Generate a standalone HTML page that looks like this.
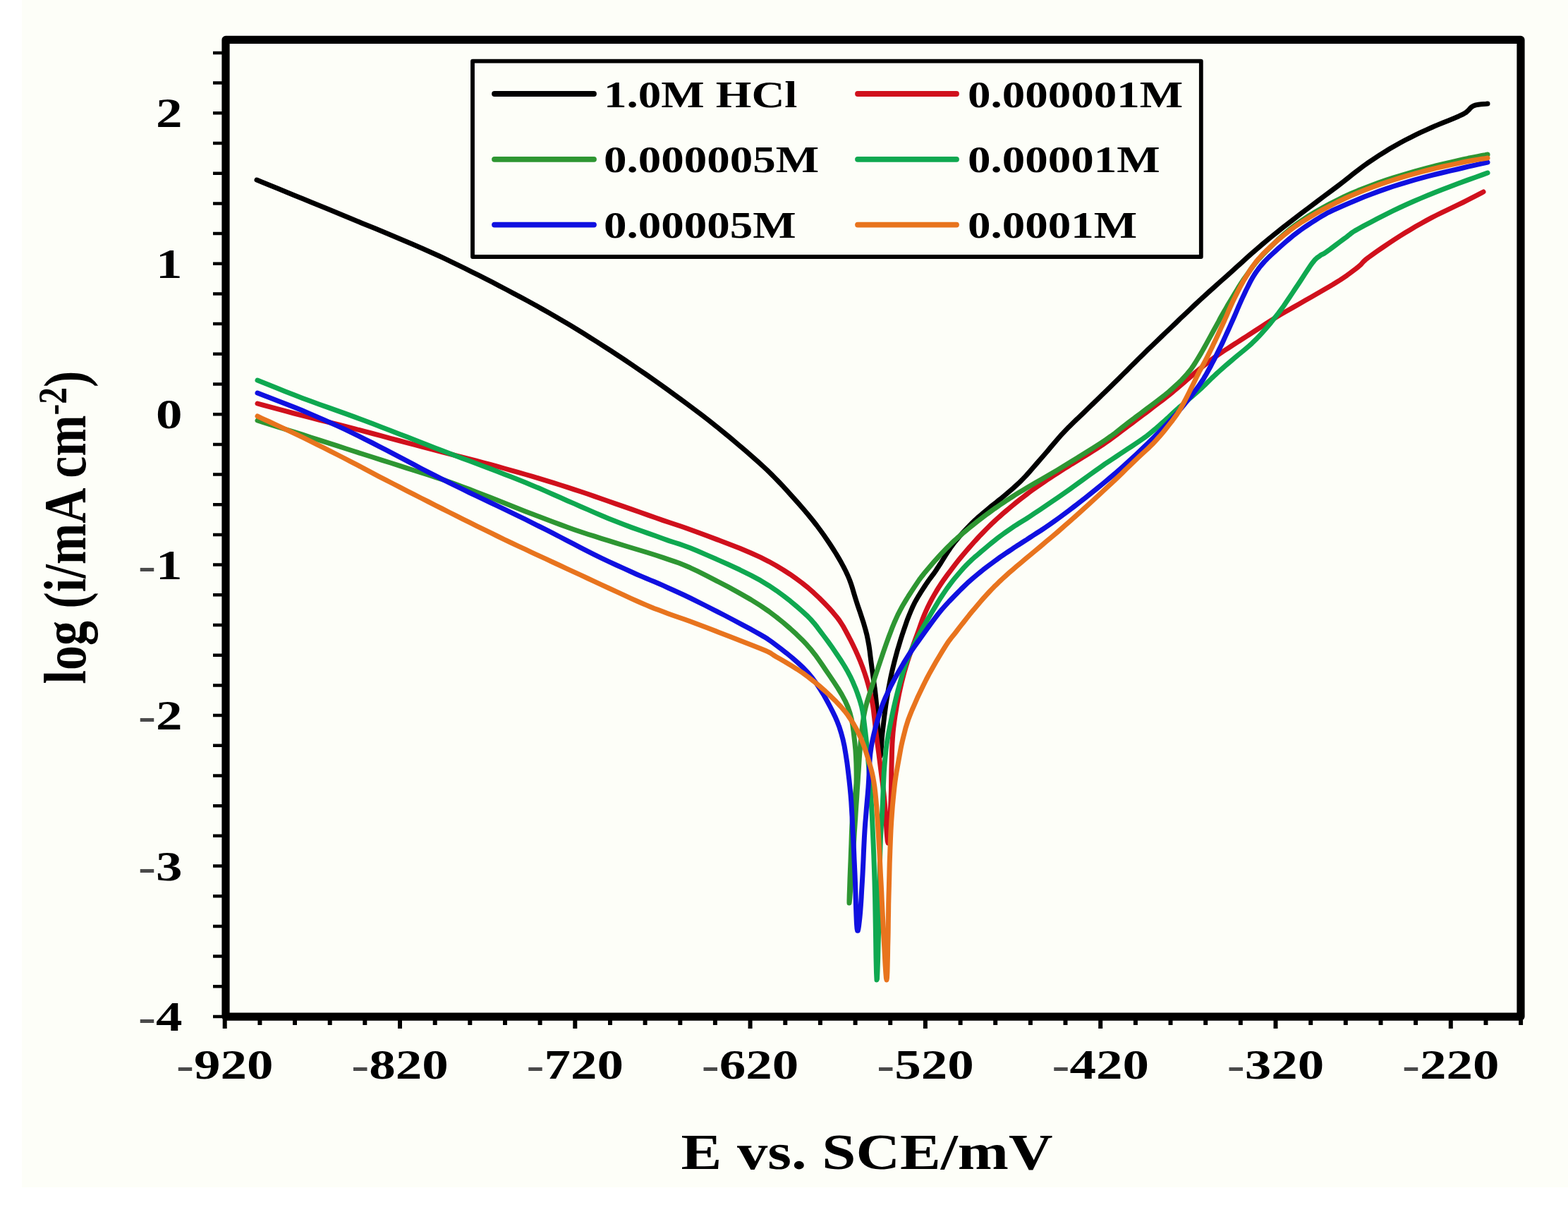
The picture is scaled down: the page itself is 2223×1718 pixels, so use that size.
<!DOCTYPE html>
<html><head><meta charset="utf-8"><title>Polarization curves</title>
<style>html,body{margin:0;padding:0;background:#fff;width:2223px;height:1718px;overflow:hidden;} svg{display:block;}</style>
</head><body>
<svg width="2223" height="1718" viewBox="0 0 2223 1718">
<rect x="0" y="0" width="2223" height="1718" fill="#ffffff"/>
<rect x="31" y="0" width="2192" height="1683" fill="#fdfef8"/>
<g fill="none" stroke-width="7" stroke-linejoin="round" stroke-linecap="round">
<path d="M364.0,255.0 L371.2,257.9 L381.0,262.0 L392.8,266.8 L405.4,272.0 L418.1,277.2 L430.0,282.0 L440.8,286.5 L451.3,290.7 L461.8,295.0 L472.7,299.5 L484.7,304.4 L498.0,309.9 L513.5,316.4 L531.1,323.6 L549.6,331.3 L567.9,339.0 L585.1,346.3 L600.0,352.7 L612.3,358.2 L622.9,363.0 L632.2,367.4 L640.9,371.6 L649.7,375.9 L659.0,380.4 L668.8,385.3 L678.6,390.2 L688.4,395.2 L698.3,400.2 L708.1,405.3 L718.0,410.5 L728.0,415.8 L738.0,421.1 L748.0,426.5 L758.0,432.0 L768.0,437.6 L778.0,443.2 L787.9,449.0 L797.7,454.8 L807.6,460.6 L817.4,466.6 L827.2,472.6 L837.0,478.7 L846.8,484.9 L856.7,491.2 L866.5,497.5 L876.3,504.0 L886.2,510.5 L896.0,517.1 L905.8,523.8 L915.6,530.5 L925.4,537.4 L935.3,544.3 L945.1,551.4 L955.0,558.6 L965.0,565.8 L975.0,573.2 L985.0,580.7 L995.0,588.3 L1005.0,596.0 L1015.0,603.9 L1025.2,612.2 L1035.6,620.8 L1046.0,629.6 L1056.1,638.2 L1065.5,646.4 L1074.0,653.9 L1081.3,660.5 L1087.5,666.3 L1093.1,671.7 L1098.4,677.1 L1103.9,682.8 L1110.0,689.2 L1116.8,696.6 L1124.0,704.6 L1131.4,712.9 L1138.7,721.3 L1145.7,729.5 L1152.0,737.3 L1157.7,744.5 L1162.9,751.5 L1167.8,758.3 L1172.4,764.9 L1176.8,771.5 L1181.0,778.0 L1185.1,784.5 L1188.9,790.9 L1192.6,797.3 L1196.0,803.6 L1199.1,809.8 L1202.0,816.0 L1204.5,822.0 L1206.6,827.7 L1208.4,833.4 L1210.1,839.2 L1211.9,845.3 L1214.0,852.0 L1216.4,859.3 L1219.1,867.2 L1221.8,875.4 L1224.5,883.7 L1226.9,892.0 L1229.0,900.0 L1230.6,907.8 L1232.0,915.5 L1233.1,923.1 L1234.0,930.7 L1235.0,938.4 L1236.0,946.0 L1237.1,953.7 L1238.2,961.3 L1239.2,968.9 L1240.3,976.6 L1241.2,984.3 L1242.0,992.0 L1242.7,999.9 L1243.2,1008.1 L1243.7,1016.3 L1244.1,1024.3 L1244.5,1032.0 L1245.0,1039.0 L1245.5,1046.1 L1246.0,1053.5 L1246.5,1060.5 L1247.0,1066.4 L1247.5,1070.5 L1248.0,1072.0 L1248.5,1070.5 L1248.9,1066.4 L1249.3,1060.5 L1249.8,1053.5 L1250.3,1046.1 L1251.0,1039.0 L1251.8,1032.0 L1252.7,1024.3 L1253.6,1016.3 L1254.7,1008.1 L1255.8,999.9 L1257.0,992.0 L1258.3,984.3 L1259.6,976.6 L1261.1,968.9 L1262.6,961.3 L1264.2,953.7 L1266.0,946.0 L1267.9,938.3 L1270.0,930.4 L1272.1,922.6 L1274.4,914.9 L1276.7,907.3 L1279.0,900.0 L1281.4,892.9 L1283.8,885.8 L1286.2,878.9 L1288.8,872.3 L1291.4,866.0 L1294.0,860.0 L1296.7,854.4 L1299.6,849.2 L1302.5,844.3 L1305.4,839.7 L1308.3,835.2 L1311.0,831.0 L1313.7,826.9 L1316.4,823.0 L1319.1,819.4 L1321.7,815.9 L1324.0,812.8 L1326.0,810.0 L1327.5,807.8 L1328.5,806.3 L1329.2,805.1 L1330.1,803.8 L1331.2,802.0 L1333.0,799.3 L1335.4,795.5 L1338.2,791.0 L1341.3,786.0 L1344.7,780.7 L1348.3,775.4 L1352.0,770.4 L1356.0,765.5 L1360.2,760.5 L1364.7,755.4 L1369.2,750.5 L1373.7,745.8 L1378.0,741.5 L1382.1,737.5 L1386.2,733.7 L1390.2,730.3 L1394.2,726.9 L1398.1,723.7 L1402.0,720.4 L1405.7,717.3 L1409.3,714.5 L1412.9,711.7 L1416.4,708.8 L1420.1,705.9 L1424.0,702.6 L1428.1,699.1 L1432.2,695.6 L1436.5,691.9 L1440.9,687.9 L1445.4,683.7 L1450.0,679.1 L1454.8,674.1 L1459.7,668.6 L1464.8,662.8 L1469.9,656.9 L1475.0,651.0 L1480.0,645.3 L1484.8,639.8 L1489.3,634.3 L1493.8,628.9 L1498.5,623.4 L1503.5,617.7 L1509.0,611.8 L1515.2,605.4 L1522.0,598.8 L1529.1,591.9 L1536.3,585.1 L1543.3,578.3 L1550.0,571.9 L1556.3,565.7 L1562.4,559.8 L1568.4,554.0 L1574.3,548.2 L1580.1,542.5 L1586.0,536.7 L1591.8,530.9 L1597.6,525.2 L1603.3,519.4 L1609.1,513.7 L1614.9,507.9 L1621.0,501.9 L1627.2,495.8 L1633.6,489.7 L1640.1,483.4 L1646.7,477.1 L1653.3,470.8 L1660.0,464.5 L1666.7,458.1 L1673.4,451.6 L1680.1,445.2 L1687.0,438.7 L1693.9,432.1 L1701.0,425.5 L1708.3,418.9 L1715.7,412.1 L1723.3,405.3 L1730.9,398.5 L1738.5,391.8 L1746.0,385.1 L1753.4,378.4 L1760.7,371.8 L1768.0,365.2 L1775.3,358.7 L1782.6,352.3 L1790.0,346.0 L1797.3,339.9 L1804.3,334.1 L1811.4,328.4 L1818.8,322.6 L1826.6,316.5 L1835.0,310.0 L1844.4,302.8 L1854.8,295.0 L1865.6,286.9 L1876.3,278.8 L1886.6,271.1 L1896.0,264.1 L1904.3,257.7 L1911.9,251.7 L1919.0,246.1 L1925.9,240.7 L1932.8,235.5 L1940.0,230.4 L1947.5,225.3 L1955.0,220.4 L1962.5,215.7 L1970.0,211.1 L1977.5,206.7 L1985.0,202.5 L1992.4,198.5 L1999.7,194.8 L2007.0,191.2 L2014.3,187.7 L2021.6,184.3 L2029.0,181.0 L2036.8,177.6 L2045.0,174.2 L2053.3,170.9 L2061.2,167.7 L2068.2,164.7 L2074.0,162.0 L2078.2,159.5 L2081.0,157.1 L2083.1,155.0 L2084.7,153.1 L2086.6,151.4 L2089.0,150.0 L2092.3,148.9 L2096.0,148.2 L2099.9,147.8 L2103.6,147.4 L2106.8,147.2 L2109.0,147.0" stroke="#000000"/>
<path d="M365.0,572.0 L371.8,573.9 L381.2,576.4 L392.4,579.4 L404.6,582.7 L417.0,586.0 L429.0,589.2 L440.8,592.2 L452.9,595.3 L465.4,598.4 L478.0,601.5 L490.6,604.7 L503.0,607.9 L515.5,611.2 L528.2,614.5 L540.9,617.9 L553.4,621.3 L565.5,624.5 L577.0,627.6 L587.7,630.4 L597.8,633.0 L607.4,635.6 L616.9,638.0 L626.3,640.5 L636.0,643.0 L645.8,645.6 L655.6,648.1 L665.4,650.6 L675.3,653.2 L685.1,655.8 L695.0,658.5 L705.0,661.2 L715.0,664.0 L725.0,666.8 L735.0,669.6 L745.0,672.5 L755.0,675.4 L764.9,678.4 L774.7,681.4 L784.6,684.4 L794.4,687.5 L804.2,690.6 L814.0,693.8 L823.7,697.0 L833.4,700.3 L843.0,703.6 L852.7,707.0 L862.7,710.5 L873.0,714.1 L883.9,717.9 L895.4,721.9 L907.1,726.0 L918.7,730.1 L929.8,734.0 L940.0,737.6 L948.7,740.5 L956.2,743.0 L963.1,745.3 L970.4,747.7 L978.7,750.7 L989.0,754.5 L1001.9,759.3 L1016.8,764.9 L1032.9,771.0 L1049.1,777.3 L1064.4,783.7 L1078.0,789.9 L1089.7,795.8 L1100.4,801.7 L1110.3,807.7 L1119.6,813.7 L1128.4,819.9 L1137.0,826.2 L1145.5,833.0 L1153.6,840.2 L1161.4,847.5 L1168.6,854.8 L1175.2,861.7 L1181.0,868.2 L1185.8,873.9 L1189.7,879.0 L1192.9,883.9 L1195.9,888.7 L1198.8,894.0 L1202.0,900.0 L1205.6,906.8 L1209.3,914.3 L1213.0,922.1 L1216.6,930.1 L1220.0,938.2 L1223.0,946.0 L1225.7,953.7 L1228.2,961.3 L1230.4,968.9 L1232.5,976.6 L1234.3,984.3 L1236.0,992.0 L1237.4,999.8 L1238.5,1007.6 L1239.4,1015.5 L1240.3,1023.4 L1241.1,1031.2 L1242.0,1039.0 L1243.0,1046.7 L1244.0,1054.3 L1245.0,1061.8 L1246.0,1069.4 L1247.0,1077.1 L1248.0,1085.0 L1249.0,1093.0 L1250.0,1101.0 L1251.1,1109.1 L1252.1,1117.4 L1253.1,1126.0 L1254.0,1135.0 L1254.9,1145.8 L1255.8,1158.7 L1256.6,1171.9 L1257.4,1183.5 L1258.2,1191.8 L1259.0,1195.0 L1259.8,1191.8 L1260.5,1183.5 L1261.2,1171.9 L1261.9,1158.7 L1262.5,1145.8 L1263.0,1135.0 L1263.3,1126.0 L1263.5,1117.4 L1263.6,1109.1 L1263.7,1101.0 L1263.8,1093.0 L1264.0,1085.0 L1264.2,1077.1 L1264.4,1069.4 L1264.6,1061.8 L1264.9,1054.3 L1265.4,1046.7 L1266.0,1039.0 L1266.8,1031.2 L1267.8,1023.4 L1268.9,1015.5 L1270.2,1007.6 L1271.5,999.8 L1273.0,992.0 L1274.5,984.3 L1276.2,976.6 L1277.9,968.9 L1279.8,961.3 L1281.8,953.7 L1284.0,946.0 L1286.4,938.2 L1289.1,930.2 L1291.9,922.3 L1294.7,914.5 L1297.4,907.0 L1300.0,900.0 L1302.3,893.6 L1304.4,887.6 L1306.4,882.0 L1308.4,876.5 L1310.6,871.1 L1313.0,865.6 L1315.6,860.0 L1318.4,854.4 L1321.3,848.9 L1324.4,843.4 L1327.6,837.9 L1331.0,832.4 L1334.7,826.8 L1338.6,821.1 L1342.7,815.4 L1346.9,809.8 L1351.0,804.4 L1355.0,799.2 L1358.9,794.2 L1362.7,789.5 L1366.5,785.0 L1370.3,780.5 L1374.1,776.1 L1378.0,771.7 L1381.9,767.3 L1385.9,763.0 L1389.9,758.7 L1394.0,754.5 L1398.0,750.4 L1402.0,746.4 L1405.9,742.5 L1409.8,738.9 L1413.7,735.3 L1417.6,731.8 L1421.7,728.2 L1426.0,724.5 L1430.6,720.6 L1435.4,716.6 L1440.4,712.5 L1445.4,708.5 L1450.3,704.7 L1455.0,701.1 L1459.4,697.8 L1463.5,694.8 L1467.5,691.9 L1471.5,689.1 L1475.6,686.3 L1480.0,683.3 L1484.6,680.2 L1489.3,677.1 L1494.1,673.9 L1499.0,670.7 L1504.0,667.5 L1509.0,664.4 L1514.1,661.2 L1519.3,657.9 L1524.6,654.7 L1529.8,651.5 L1535.0,648.3 L1540.0,645.2 L1544.8,642.2 L1549.4,639.3 L1553.9,636.5 L1558.5,633.6 L1563.1,630.6 L1568.0,627.2 L1573.1,623.6 L1578.4,619.7 L1583.9,615.6 L1589.3,611.5 L1594.7,607.4 L1600.0,603.5 L1605.2,599.6 L1610.3,595.8 L1615.3,592.0 L1620.3,588.3 L1625.2,584.6 L1630.0,580.9 L1634.7,577.3 L1639.4,573.8 L1644.0,570.3 L1648.5,566.9 L1652.8,563.5 L1657.0,560.2 L1661.0,557.0 L1664.7,553.9 L1668.4,550.8 L1671.9,547.8 L1675.4,544.8 L1679.0,541.8 L1682.5,538.7 L1685.9,535.8 L1689.3,532.8 L1692.7,529.8 L1696.3,526.8 L1700.0,523.7 L1703.9,520.5 L1708.0,517.2 L1712.2,513.9 L1716.5,510.6 L1720.8,507.4 L1725.0,504.3 L1729.2,501.4 L1733.3,498.6 L1737.5,495.9 L1741.7,493.2 L1745.8,490.5 L1750.0,487.8 L1754.2,485.1 L1758.3,482.5 L1762.5,479.8 L1766.7,477.1 L1770.8,474.5 L1775.0,471.8 L1779.2,469.0 L1783.5,466.2 L1787.8,463.4 L1792.0,460.6 L1796.1,457.9 L1800.0,455.5 L1803.3,453.4 L1806.1,451.6 L1808.7,450.0 L1811.6,448.3 L1815.2,446.1 L1820.0,443.3 L1826.3,439.7 L1833.9,435.4 L1842.1,430.7 L1850.6,425.8 L1858.7,421.2 L1866.0,417.0 L1872.5,413.3 L1878.5,409.8 L1884.2,406.5 L1889.7,403.3 L1894.9,400.1 L1900.0,396.9 L1904.9,393.6 L1909.7,390.3 L1914.2,387.0 L1918.5,383.7 L1922.5,380.7 L1926.0,377.9 L1928.7,375.6 L1930.4,373.8 L1931.8,372.2 L1933.5,370.4 L1936.0,368.1 L1940.0,365.0 L1945.7,360.9 L1952.7,355.9 L1960.6,350.5 L1968.9,344.9 L1977.2,339.4 L1985.0,334.4 L1992.4,329.8 L1999.7,325.4 L2007.0,321.1 L2014.3,317.0 L2021.6,312.9 L2029.0,308.9 L2036.6,305.0 L2044.5,301.1 L2052.4,297.3 L2060.1,293.7 L2067.4,290.2 L2074.0,287.0 L2080.1,283.9 L2085.9,280.9 L2091.3,278.1 L2096.1,275.6 L2100.0,273.6 L2103.0,272.0" stroke="#d0101c"/>
<path d="M365.0,596.0 L371.8,598.2 L381.2,601.1 L392.4,604.6 L404.6,608.5 L417.0,612.4 L429.0,616.2 L440.8,620.0 L452.9,623.9 L465.4,627.9 L478.0,631.9 L490.6,636.0 L503.0,640.0 L515.5,644.0 L528.2,648.0 L540.9,652.1 L553.4,656.0 L565.5,659.9 L577.0,663.6 L587.7,667.0 L597.8,670.2 L607.4,673.2 L616.9,676.3 L626.3,679.4 L636.0,682.7 L645.8,686.2 L655.6,689.9 L665.4,693.6 L675.3,697.4 L685.1,701.2 L695.0,705.0 L705.0,708.9 L715.0,712.9 L725.0,716.9 L735.0,720.9 L745.0,724.9 L755.0,728.7 L764.9,732.5 L774.7,736.3 L784.6,740.0 L794.4,743.6 L804.2,747.2 L814.0,750.7 L823.7,754.0 L833.4,757.2 L843.0,760.2 L852.7,763.3 L862.7,766.4 L873.0,769.6 L883.9,773.0 L895.4,776.5 L907.1,780.0 L918.7,783.5 L929.8,787.0 L940.0,790.4 L948.7,793.4 L956.2,795.9 L963.1,798.3 L970.4,801.2 L978.7,804.8 L989.0,809.7 L1001.9,816.1 L1016.8,823.8 L1032.9,832.2 L1049.1,841.1 L1064.4,849.9 L1078.0,858.4 L1089.9,866.5 L1100.8,874.7 L1110.9,882.9 L1120.3,891.0 L1129.0,898.9 L1137.0,906.7 L1144.1,914.2 L1150.3,921.3 L1155.8,928.3 L1160.8,935.3 L1165.8,942.6 L1171.0,950.2 L1176.6,958.4 L1182.3,966.9 L1188.0,975.6 L1193.3,984.4 L1198.1,993.3 L1202.0,1002.0 L1205.0,1010.6 L1207.2,1019.2 L1208.8,1027.7 L1210.0,1036.4 L1211.0,1045.1 L1212.0,1054.0 L1212.9,1063.3 L1213.5,1073.0 L1213.9,1082.8 L1214.1,1092.4 L1214.2,1101.5 L1214.0,1110.0 L1213.5,1117.2 L1212.8,1123.4 L1211.8,1129.1 L1210.8,1135.0 L1209.8,1141.8 L1209.0,1150.0 L1208.4,1160.0 L1207.8,1171.5 L1207.3,1183.8 L1206.9,1196.3 L1206.4,1208.6 L1206.0,1220.0 L1205.5,1231.9 L1205.0,1244.8 L1204.6,1257.5 L1204.2,1268.5 L1204.0,1276.5 L1204.0,1280.0 L1204.3,1278.1 L1204.9,1271.9 L1205.6,1262.5 L1206.4,1251.5 L1207.3,1240.2 L1208.0,1230.0 L1208.7,1220.6 L1209.3,1210.7 L1210.0,1200.6 L1210.7,1190.4 L1211.3,1180.1 L1212.0,1170.0 L1212.7,1160.0 L1213.3,1149.9 L1214.0,1139.8 L1214.7,1129.7 L1215.3,1119.8 L1216.0,1110.0 L1216.6,1100.3 L1217.3,1090.7 L1217.9,1081.1 L1218.5,1071.8 L1219.2,1062.7 L1220.0,1054.0 L1220.8,1045.7 L1221.6,1037.8 L1222.4,1030.2 L1223.4,1022.8 L1224.6,1015.4 L1226.0,1008.0 L1227.7,1000.8 L1229.5,994.0 L1231.6,987.3 L1233.8,980.3 L1236.3,972.8 L1239.0,964.5 L1242.1,955.0 L1245.6,944.4 L1249.3,933.3 L1253.1,922.2 L1256.7,911.9 L1260.0,902.8 L1262.9,895.2 L1265.4,888.6 L1267.8,882.7 L1270.3,877.1 L1272.9,871.4 L1276.0,865.4 L1279.6,858.8 L1283.7,851.9 L1287.9,845.0 L1292.2,838.3 L1296.3,832.1 L1300.0,826.6 L1303.2,821.9 L1306.1,818.0 L1308.9,814.5 L1311.5,811.2 L1314.2,808.0 L1317.0,804.7 L1319.9,801.2 L1322.9,797.7 L1325.9,794.3 L1329.0,791.0 L1332.0,787.7 L1335.0,784.4 L1337.9,781.3 L1340.7,778.4 L1343.6,775.5 L1346.5,772.6 L1349.6,769.6 L1353.0,766.4 L1356.8,763.0 L1360.9,759.5 L1365.1,755.8 L1369.5,752.2 L1373.8,748.6 L1378.0,745.2 L1382.1,742.0 L1386.1,738.8 L1390.1,735.7 L1394.0,732.7 L1398.0,729.7 L1402.0,726.8 L1406.0,723.9 L1410.0,721.0 L1414.0,718.3 L1418.0,715.5 L1422.0,712.8 L1426.0,710.1 L1429.6,707.8 L1432.7,705.7 L1435.8,703.7 L1439.4,701.4 L1444.0,698.6 L1450.0,694.9 L1457.8,690.3 L1467.1,684.9 L1477.3,679.0 L1488.0,672.8 L1498.8,666.5 L1509.0,660.3 L1519.1,654.1 L1529.7,647.6 L1540.2,641.1 L1550.3,634.6 L1559.7,628.6 L1568.0,623.1 L1575.0,618.2 L1581.1,613.7 L1586.4,609.6 L1591.1,605.8 L1595.6,602.2 L1600.0,598.8 L1604.0,595.8 L1607.3,593.4 L1610.2,591.1 L1613.3,588.8 L1616.8,586.2 L1621.0,583.0 L1626.2,579.0 L1632.3,574.6 L1638.7,569.8 L1645.2,564.8 L1651.4,560.0 L1657.0,555.4 L1662.0,551.0 L1666.7,546.7 L1671.2,542.5 L1675.4,538.4 L1679.3,534.2 L1683.0,530.1 L1686.3,526.1 L1689.2,522.3 L1691.8,518.5 L1694.4,514.5 L1697.0,510.2 L1700.0,505.3 L1703.4,499.6 L1707.0,493.2 L1710.8,486.4 L1714.5,479.6 L1718.0,473.3 L1721.0,467.8 L1723.5,463.3 L1725.6,459.4 L1727.4,456.1 L1729.1,452.8 L1730.9,449.5 L1733.0,445.8 L1735.3,441.8 L1737.7,437.7 L1740.1,433.4 L1742.7,429.1 L1745.3,424.7 L1748.0,420.2 L1750.8,415.7 L1753.6,411.1 L1756.4,406.4 L1759.4,401.7 L1762.6,396.8 L1766.0,392.0 L1769.4,387.2 L1772.7,382.4 L1776.2,377.6 L1780.1,372.6 L1784.6,367.3 L1790.0,361.4 L1796.4,354.9 L1803.5,347.7 L1811.3,340.2 L1819.6,332.7 L1828.2,325.3 L1837.0,318.5 L1846.1,312.1 L1855.8,305.8 L1865.8,299.8 L1875.9,294.1 L1886.0,288.6 L1896.0,283.5 L1905.8,278.7 L1915.6,274.3 L1925.4,270.1 L1935.3,266.2 L1945.1,262.5 L1955.0,258.9 L1965.0,255.4 L1975.0,252.1 L1985.0,249.0 L1995.0,246.0 L2005.0,243.1 L2015.0,240.4 L2025.2,237.6 L2035.6,235.0 L2046.1,232.5 L2056.1,230.1 L2065.6,227.9 L2074.0,226.0 L2081.6,224.3 L2088.7,222.9 L2095.2,221.6 L2100.8,220.5 L2105.5,219.7 L2109.0,219.0" stroke="#2e9632"/>
<path d="M365.0,539.0 L371.8,541.7 L381.2,545.5 L392.4,550.0 L404.6,554.9 L417.0,559.8 L429.0,564.4 L440.8,568.8 L452.9,573.2 L465.4,577.6 L478.0,582.1 L490.6,586.6 L503.0,591.1 L515.5,595.8 L528.2,600.6 L540.9,605.4 L553.4,610.2 L565.5,614.9 L577.0,619.3 L587.7,623.4 L597.8,627.4 L607.4,631.2 L616.9,634.9 L626.3,638.6 L636.0,642.3 L645.8,646.0 L655.6,649.7 L665.4,653.3 L675.3,657.0 L685.1,660.7 L695.0,664.4 L705.0,668.3 L715.0,672.2 L725.0,676.1 L735.0,680.0 L745.0,684.1 L755.0,688.2 L764.9,692.3 L774.7,696.6 L784.6,701.0 L794.4,705.3 L804.2,709.7 L814.0,713.9 L823.7,718.2 L833.4,722.4 L843.0,726.6 L852.7,730.8 L862.7,735.0 L873.0,739.1 L883.9,743.3 L895.4,747.6 L907.1,751.8 L918.7,755.9 L929.8,759.8 L940.0,763.5 L948.7,766.6 L956.2,769.0 L963.1,771.2 L970.4,773.7 L978.7,776.8 L989.0,781.1 L1001.9,786.6 L1016.8,793.1 L1032.9,800.3 L1049.1,807.8 L1064.4,815.4 L1078.0,822.7 L1089.9,829.9 L1100.9,837.3 L1111.1,844.8 L1120.5,852.1 L1129.1,859.3 L1137.0,866.1 L1143.8,872.3 L1149.3,877.9 L1154.1,883.3 L1158.5,888.8 L1163.0,894.8 L1168.0,901.5 L1173.7,909.1 L1179.7,917.5 L1185.8,926.4 L1191.7,935.3 L1197.2,944.0 L1202.0,952.3 L1206.1,960.1 L1209.6,967.8 L1212.8,975.3 L1215.5,982.5 L1217.9,989.5 L1220.0,996.2 L1221.7,1002.4 L1222.9,1008.0 L1223.8,1013.3 L1224.5,1018.7 L1225.2,1024.5 L1226.0,1031.0 L1226.9,1038.1 L1227.7,1045.5 L1228.6,1053.3 L1229.4,1061.6 L1230.2,1070.5 L1231.0,1080.0 L1231.8,1090.1 L1232.7,1100.7 L1233.6,1111.8 L1234.4,1123.7 L1235.2,1136.4 L1236.0,1150.0 L1236.7,1164.5 L1237.4,1179.7 L1238.1,1195.7 L1238.8,1212.7 L1239.4,1230.7 L1240.0,1250.0 L1240.6,1273.5 L1241.1,1301.9 L1241.6,1331.3 L1242.0,1358.1 L1242.5,1378.6 L1243.0,1389.0 L1243.5,1387.5 L1244.0,1376.6 L1244.6,1359.4 L1245.1,1338.9 L1245.6,1318.1 L1246.0,1300.0 L1246.4,1283.4 L1246.7,1265.8 L1247.0,1247.8 L1247.3,1230.3 L1247.6,1214.1 L1248.0,1200.0 L1248.4,1188.4 L1248.9,1178.9 L1249.4,1170.6 L1250.0,1162.8 L1250.5,1154.9 L1251.0,1146.0 L1251.5,1136.1 L1251.9,1125.7 L1252.3,1115.1 L1252.8,1104.6 L1253.3,1094.5 L1254.0,1085.0 L1254.7,1076.6 L1255.4,1069.1 L1256.2,1061.9 L1257.1,1054.6 L1258.4,1046.7 L1260.0,1037.7 L1262.1,1027.1 L1264.5,1015.3 L1267.2,1002.8 L1270.1,990.3 L1273.1,978.4 L1276.0,967.6 L1278.7,958.1 L1281.3,949.6 L1284.0,941.6 L1286.9,933.7 L1290.2,925.7 L1294.0,917.1 L1298.7,907.7 L1304.0,897.6 L1309.8,887.3 L1315.6,877.3 L1321.1,868.0 L1326.0,859.9 L1330.1,853.0 L1333.7,847.2 L1337.1,842.1 L1340.3,837.4 L1343.5,832.8 L1347.0,828.1 L1350.8,823.2 L1354.6,818.4 L1358.6,813.7 L1362.5,809.2 L1366.3,804.9 L1370.0,801.0 L1373.5,797.5 L1376.7,794.4 L1379.9,791.5 L1383.1,788.7 L1386.5,785.9 L1390.0,782.8 L1393.8,779.6 L1397.7,776.3 L1401.8,772.9 L1405.9,769.5 L1410.0,766.2 L1414.0,763.1 L1418.0,760.0 L1422.1,757.0 L1426.1,754.1 L1430.1,751.3 L1434.1,748.6 L1438.0,745.9 L1441.5,743.7 L1444.5,741.8 L1447.4,740.0 L1450.7,738.0 L1454.8,735.5 L1460.0,732.1 L1466.6,727.7 L1474.3,722.6 L1482.7,716.9 L1491.5,710.9 L1500.4,704.8 L1509.0,698.9 L1517.6,692.8 L1526.5,686.4 L1535.5,679.9 L1544.3,673.5 L1552.5,667.6 L1560.0,662.3 L1566.5,657.7 L1572.3,653.8 L1577.6,650.3 L1582.7,647.0 L1587.7,643.7 L1593.0,640.2 L1598.6,636.4 L1604.3,632.7 L1610.0,628.9 L1615.6,625.1 L1621.0,621.4 L1626.0,617.7 L1630.7,614.0 L1635.2,610.3 L1639.5,606.7 L1643.6,603.1 L1647.4,599.7 L1651.0,596.5 L1654.2,593.6 L1657.1,591.0 L1659.7,588.5 L1662.3,586.1 L1665.0,583.6 L1668.0,580.9 L1671.4,577.8 L1675.2,574.6 L1679.1,571.3 L1682.9,568.0 L1686.6,564.9 L1690.0,562.0 L1693.0,559.4 L1695.7,557.1 L1698.2,554.9 L1700.7,552.7 L1703.2,550.4 L1706.0,547.8 L1708.9,545.0 L1711.9,542.1 L1714.9,539.1 L1718.1,535.9 L1721.5,532.7 L1725.0,529.4 L1728.8,526.0 L1732.9,522.4 L1737.1,518.7 L1741.4,515.0 L1745.8,511.3 L1750.0,507.7 L1754.2,504.1 L1758.5,500.6 L1762.8,497.1 L1767.0,493.6 L1771.1,490.1 L1775.0,486.6 L1778.6,483.1 L1782.0,479.7 L1785.2,476.3 L1788.4,472.9 L1791.7,469.2 L1795.0,465.4 L1798.4,461.4 L1801.8,457.4 L1805.2,453.1 L1808.7,448.7 L1812.3,444.1 L1816.0,439.1 L1819.9,433.7 L1823.9,427.8 L1828.0,421.7 L1832.1,415.6 L1836.1,409.5 L1840.0,403.7 L1843.8,398.0 L1847.6,392.1 L1851.3,386.4 L1854.9,381.0 L1858.1,376.1 L1861.0,372.2 L1863.4,369.2 L1865.5,367.0 L1867.3,365.4 L1868.9,364.2 L1870.5,363.2 L1872.0,362.0 L1873.3,361.1 L1874.1,360.7 L1874.9,360.4 L1875.9,360.0 L1877.5,359.1 L1880.0,357.4 L1883.8,354.7 L1888.6,351.1 L1893.9,347.1 L1899.4,343.0 L1904.6,339.2 L1909.0,336.0 L1912.0,333.6 L1914.0,332.0 L1915.6,330.6 L1917.7,329.1 L1920.9,327.1 L1926.0,324.2 L1933.4,320.1 L1942.6,315.3 L1952.9,309.9 L1963.8,304.3 L1974.7,298.9 L1985.0,294.0 L1994.8,289.5 L2004.4,285.2 L2014.1,281.1 L2023.9,277.1 L2033.8,273.0 L2044.0,269.0 L2055.2,264.7 L2067.6,260.0 L2080.2,255.4 L2091.9,251.2 L2101.9,247.6 L2109.0,245.0" stroke="#0fa850"/>
<path d="M365.0,557.0 L372.0,559.7 L381.8,563.5 L393.3,567.9 L405.7,572.7 L417.9,577.6 L429.0,582.1 L439.1,586.4 L449.0,590.6 L458.8,594.9 L468.5,599.2 L478.2,603.6 L488.0,608.2 L497.8,612.9 L507.6,617.7 L517.4,622.6 L527.3,627.5 L537.1,632.6 L547.0,637.6 L557.0,642.8 L567.0,648.1 L577.0,653.4 L587.0,658.7 L597.0,664.0 L607.0,669.1 L616.9,674.2 L626.7,679.1 L636.6,684.0 L646.4,688.8 L656.2,693.7 L666.0,698.5 L675.8,703.2 L685.7,707.9 L695.5,712.5 L705.3,717.1 L715.2,721.8 L725.0,726.6 L734.8,731.4 L744.7,736.2 L754.5,741.1 L764.3,746.0 L774.2,750.9 L784.0,755.9 L793.8,761.0 L803.6,766.1 L813.4,771.2 L823.3,776.4 L833.1,781.4 L843.0,786.4 L853.2,791.3 L863.8,796.3 L874.4,801.2 L884.7,805.9 L894.3,810.3 L903.0,814.2 L910.4,817.4 L916.6,820.0 L922.2,822.4 L927.6,824.6 L933.4,827.0 L940.0,829.9 L947.2,833.2 L954.5,836.5 L962.2,840.0 L970.4,843.8 L979.2,848.0 L989.0,852.8 L1000.3,858.5 L1013.2,865.1 L1026.8,872.0 L1040.1,879.0 L1052.5,885.6 L1063.0,891.2 L1071.2,895.8 L1077.7,899.4 L1083.2,902.6 L1088.4,905.8 L1093.7,909.5 L1100.0,914.2 L1107.3,919.8 L1115.2,925.9 L1123.4,932.6 L1131.4,939.6 L1139.1,946.8 L1146.0,954.1 L1152.2,961.7 L1157.9,969.5 L1163.2,977.6 L1168.2,985.8 L1172.8,994.0 L1177.0,1001.9 L1180.8,1009.4 L1184.3,1016.6 L1187.3,1023.7 L1190.1,1031.1 L1192.6,1039.1 L1195.0,1048.0 L1197.2,1058.1 L1199.1,1069.3 L1200.9,1081.1 L1202.4,1093.0 L1203.8,1104.8 L1205.0,1116.0 L1206.0,1126.6 L1206.8,1136.8 L1207.4,1146.9 L1208.0,1156.9 L1208.5,1166.9 L1209.0,1177.0 L1209.6,1187.1 L1210.1,1197.0 L1210.6,1207.0 L1211.0,1217.2 L1211.5,1227.8 L1212.0,1239.0 L1212.5,1252.0 L1213.0,1267.0 L1213.4,1282.4 L1213.9,1296.7 L1214.4,1308.4 L1215.0,1316.0 L1215.6,1319.2 L1216.3,1319.2 L1216.9,1316.6 L1217.6,1312.1 L1218.3,1306.3 L1219.0,1300.0 L1219.7,1292.4 L1220.4,1283.0 L1221.1,1272.4 L1221.7,1261.1 L1222.4,1249.7 L1223.0,1239.0 L1223.5,1228.7 L1224.0,1218.4 L1224.4,1208.0 L1224.9,1197.6 L1225.4,1187.3 L1226.0,1177.0 L1226.7,1166.7 L1227.6,1156.4 L1228.4,1146.1 L1229.3,1135.9 L1230.2,1125.9 L1231.0,1116.0 L1231.6,1106.3 L1232.1,1096.8 L1232.5,1087.4 L1233.0,1078.2 L1233.8,1069.0 L1235.0,1060.0 L1236.6,1050.9 L1238.6,1041.8 L1240.8,1032.7 L1243.2,1024.0 L1245.6,1015.7 L1248.0,1008.0 L1250.3,1001.2 L1252.6,995.1 L1254.9,989.5 L1257.4,984.1 L1260.1,978.6 L1263.0,972.6 L1266.2,966.3 L1269.7,959.7 L1273.4,953.1 L1277.3,946.4 L1281.1,939.9 L1285.0,933.6 L1288.9,927.5 L1292.8,921.7 L1296.8,916.0 L1300.8,910.4 L1304.9,904.7 L1309.0,899.0 L1313.1,893.2 L1317.3,887.4 L1321.5,881.6 L1325.8,875.8 L1330.3,870.0 L1335.0,864.3 L1340.1,858.5 L1345.6,852.5 L1351.2,846.7 L1356.8,841.0 L1362.1,835.6 L1367.0,830.9 L1371.3,826.7 L1375.3,823.1 L1379.0,819.9 L1382.6,816.9 L1386.2,813.9 L1390.0,810.8 L1393.9,807.6 L1397.9,804.5 L1401.9,801.5 L1406.0,798.5 L1410.0,795.5 L1414.0,792.6 L1418.0,789.7 L1422.1,786.9 L1426.1,784.2 L1430.1,781.5 L1434.1,778.8 L1438.0,776.2 L1441.6,773.8 L1445.0,771.7 L1448.4,769.5 L1451.9,767.3 L1455.7,764.9 L1460.0,762.0 L1464.8,758.9 L1470.0,755.5 L1475.6,752.0 L1481.4,748.1 L1487.6,743.9 L1494.0,739.4 L1500.8,734.5 L1507.9,729.3 L1515.3,723.8 L1523.0,717.9 L1530.9,711.8 L1539.0,705.5 L1547.4,698.8 L1556.1,691.7 L1565.1,684.4 L1574.2,676.8 L1583.2,669.1 L1592.0,661.4 L1600.8,653.4 L1609.9,645.0 L1618.8,636.5 L1627.5,628.2 L1635.6,620.2 L1643.0,612.8 L1649.5,606.2 L1655.3,600.2 L1660.6,594.5 L1665.6,589.0 L1670.3,583.7 L1675.0,578.2 L1679.7,572.6 L1684.3,566.9 L1688.8,561.3 L1692.9,555.8 L1696.7,550.8 L1700.0,546.2 L1702.7,542.3 L1704.9,539.1 L1706.8,536.1 L1708.4,533.3 L1710.1,530.4 L1712.0,527.0 L1714.1,523.2 L1716.3,519.2 L1718.5,515.0 L1720.7,510.8 L1722.9,506.6 L1725.0,502.4 L1727.0,498.3 L1729.0,494.2 L1731.0,490.2 L1733.0,486.1 L1735.0,481.8 L1737.0,477.4 L1739.1,472.8 L1741.3,468.0 L1743.5,463.1 L1745.7,458.1 L1747.9,453.2 L1750.0,448.5 L1752.0,443.8 L1754.0,439.2 L1755.9,434.7 L1757.9,430.2 L1759.9,425.7 L1762.0,421.1 L1764.2,416.4 L1766.5,411.5 L1768.9,406.7 L1771.3,401.9 L1773.6,397.4 L1776.0,393.3 L1778.3,389.5 L1780.5,386.1 L1782.8,383.0 L1785.0,379.9 L1787.4,376.9 L1790.0,373.9 L1792.6,370.9 L1795.3,368.1 L1798.0,365.4 L1801.0,362.5 L1804.3,359.5 L1808.0,356.1 L1812.3,352.2 L1817.0,348.0 L1822.1,343.5 L1827.4,339.0 L1832.7,334.6 L1838.0,330.5 L1843.3,326.5 L1848.7,322.7 L1854.2,319.0 L1859.7,315.4 L1865.0,312.0 L1870.0,308.9 L1874.3,306.3 L1877.9,304.2 L1881.3,302.2 L1885.1,300.3 L1889.8,298.0 L1896.0,295.2 L1903.9,291.8 L1913.2,287.8 L1923.4,283.5 L1934.0,279.1 L1944.7,274.9 L1955.0,271.1 L1965.0,267.6 L1975.0,264.3 L1985.0,261.1 L1995.0,258.1 L2005.0,255.2 L2015.0,252.4 L2025.2,249.7 L2035.6,247.0 L2046.1,244.5 L2056.1,242.2 L2065.6,240.0 L2074.0,238.0 L2081.6,236.2 L2088.7,234.6 L2095.2,233.1 L2100.8,231.8 L2105.5,230.8 L2109.0,230.0" stroke="#1010e0"/>
<path d="M365.0,590.0 L372.0,593.3 L381.8,597.8 L393.3,603.1 L405.7,608.9 L417.9,614.6 L429.0,619.9 L439.1,624.9 L449.0,629.8 L458.8,634.7 L468.5,639.6 L478.2,644.5 L488.0,649.5 L497.8,654.6 L507.6,659.7 L517.4,664.9 L527.3,670.1 L537.1,675.3 L547.0,680.4 L557.0,685.5 L567.0,690.7 L577.0,695.8 L587.0,700.9 L597.0,706.0 L607.0,711.0 L616.9,716.1 L626.7,721.0 L636.6,726.0 L646.4,730.9 L656.2,735.8 L666.0,740.7 L675.8,745.6 L685.7,750.4 L695.5,755.2 L705.3,760.0 L715.2,764.8 L725.0,769.5 L734.8,774.1 L744.7,778.7 L754.5,783.3 L764.3,787.9 L774.2,792.4 L784.0,797.0 L793.8,801.5 L803.6,806.1 L813.4,810.6 L823.3,815.2 L833.1,819.7 L843.0,824.3 L853.2,829.1 L863.8,834.0 L874.4,838.9 L884.7,843.7 L894.3,848.1 L903.0,852.0 L910.4,855.2 L916.6,857.9 L922.2,860.2 L927.6,862.4 L933.4,864.6 L940.0,867.1 L947.0,869.7 L954.0,872.2 L961.2,874.7 L969.3,877.5 L978.4,880.8 L989.0,884.8 L1002.3,889.8 L1018.2,895.9 L1035.2,902.4 L1051.8,908.9 L1066.6,914.7 L1078.0,919.3 L1085.3,922.3 L1089.4,924.1 L1091.7,925.3 L1093.4,926.4 L1095.7,928.0 L1100.0,930.7 L1106.3,934.3 L1113.6,938.5 L1121.5,943.3 L1129.8,948.4 L1138.1,953.9 L1146.0,959.7 L1153.9,965.9 L1162.1,972.8 L1170.3,980.0 L1178.2,987.4 L1185.5,994.6 L1192.0,1001.5 L1197.5,1007.9 L1202.3,1014.2 L1206.4,1020.3 L1210.2,1026.4 L1213.7,1032.6 L1217.0,1039.0 L1220.2,1045.7 L1223.0,1052.6 L1225.6,1059.5 L1227.9,1066.5 L1230.0,1073.3 L1232.0,1079.9 L1233.8,1085.9 L1235.3,1091.4 L1236.6,1096.7 L1237.8,1102.3 L1238.9,1108.6 L1240.0,1116.0 L1241.0,1124.6 L1241.9,1134.0 L1242.8,1144.2 L1243.5,1154.9 L1244.3,1165.9 L1245.0,1177.0 L1245.7,1188.4 L1246.4,1200.2 L1247.1,1212.3 L1247.7,1224.7 L1248.3,1237.3 L1249.0,1250.0 L1249.7,1263.2 L1250.3,1276.9 L1251.0,1290.9 L1251.7,1304.6 L1252.3,1317.8 L1253.0,1330.0 L1253.7,1342.4 L1254.4,1355.6 L1255.1,1368.2 L1255.8,1378.9 L1256.4,1386.2 L1257.0,1389.0 L1257.5,1386.0 L1257.9,1378.1 L1258.2,1366.9 L1258.5,1354.1 L1258.7,1341.3 L1259.0,1330.0 L1259.2,1320.4 L1259.3,1311.3 L1259.4,1302.1 L1259.6,1292.5 L1259.7,1281.9 L1260.0,1270.0 L1260.4,1256.0 L1260.8,1240.3 L1261.2,1223.6 L1261.8,1206.9 L1262.4,1191.0 L1263.0,1177.0 L1263.7,1164.7 L1264.5,1153.5 L1265.3,1143.1 L1266.2,1133.5 L1267.1,1124.5 L1268.0,1116.0 L1268.9,1108.2 L1269.9,1101.3 L1270.9,1095.0 L1272.0,1089.1 L1273.0,1083.5 L1274.0,1077.8 L1275.0,1072.4 L1275.9,1067.3 L1276.8,1062.4 L1277.7,1057.7 L1278.8,1052.8 L1280.0,1047.6 L1281.3,1042.4 L1282.6,1037.3 L1283.9,1032.1 L1285.6,1026.6 L1287.5,1020.6 L1290.0,1014.0 L1293.0,1006.5 L1296.6,998.3 L1300.4,989.6 L1304.6,980.7 L1308.8,971.9 L1313.0,963.5 L1317.4,955.2 L1322.1,946.7 L1326.9,938.3 L1331.7,930.2 L1336.1,922.9 L1340.0,916.6 L1343.2,911.6 L1345.9,907.8 L1348.3,904.6 L1350.6,901.8 L1353.1,898.7 L1356.0,895.0 L1359.3,890.7 L1362.8,886.2 L1366.5,881.5 L1370.3,876.6 L1374.1,871.8 L1378.0,867.1 L1381.9,862.5 L1385.9,857.7 L1389.9,853.0 L1393.9,848.4 L1398.0,843.8 L1402.0,839.5 L1405.9,835.4 L1409.6,831.6 L1413.4,827.9 L1417.3,824.1 L1421.4,820.3 L1426.0,816.1 L1430.9,811.7 L1436.0,807.3 L1441.4,802.7 L1447.2,797.9 L1453.3,792.7 L1460.0,787.1 L1467.2,781.1 L1474.9,774.7 L1482.9,767.9 L1491.4,760.9 L1500.1,753.5 L1509.0,745.7 L1518.5,737.4 L1528.6,728.3 L1539.1,718.9 L1549.4,709.5 L1559.2,700.5 L1568.0,692.3 L1575.9,685.0 L1583.1,678.1 L1589.8,671.7 L1596.0,665.5 L1602.1,659.7 L1608.0,653.9 L1613.7,648.5 L1619.1,643.5 L1624.3,638.7 L1629.3,634.1 L1634.2,629.3 L1639.0,624.2 L1643.9,618.7 L1648.8,612.9 L1653.6,607.0 L1658.2,601.2 L1662.4,595.8 L1666.0,590.9 L1669.0,586.7 L1671.4,583.0 L1673.4,579.7 L1675.2,576.5 L1677.0,573.2 L1679.0,569.5 L1681.2,565.4 L1683.5,560.9 L1685.8,556.3 L1688.0,551.7 L1690.1,547.5 L1692.0,543.7 L1693.6,540.5 L1694.9,537.8 L1696.1,535.3 L1697.2,532.9 L1698.5,530.4 L1700.0,527.4 L1701.8,524.1 L1703.7,520.6 L1705.7,517.0 L1707.8,513.1 L1709.9,509.2 L1712.0,505.1 L1714.1,500.9 L1716.3,496.5 L1718.5,491.9 L1720.7,487.3 L1722.9,482.7 L1725.0,478.2 L1727.1,473.7 L1729.1,469.3 L1731.1,464.9 L1733.1,460.5 L1735.1,456.2 L1737.0,451.9 L1738.8,447.8 L1740.5,443.9 L1742.1,440.0 L1743.9,436.0 L1745.8,431.8 L1748.0,427.1 L1750.5,422.0 L1753.3,416.4 L1756.2,410.6 L1759.3,404.7 L1762.6,398.8 L1766.0,393.1 L1769.4,387.7 L1772.7,382.5 L1776.2,377.3 L1780.1,372.0 L1784.6,366.5 L1790.0,360.6 L1796.4,354.3 L1803.5,347.6 L1811.3,340.6 L1819.6,333.7 L1828.2,326.9 L1837.0,320.5 L1846.1,314.4 L1855.8,308.4 L1865.8,302.5 L1875.9,296.9 L1886.0,291.6 L1896.0,286.5 L1905.8,281.8 L1915.6,277.4 L1925.4,273.2 L1935.3,269.3 L1945.1,265.6 L1955.0,261.9 L1965.0,258.5 L1975.0,255.2 L1985.0,252.1 L1995.0,249.1 L2005.0,246.3 L2015.0,243.6 L2025.2,241.0 L2035.6,238.4 L2046.1,236.0 L2056.1,233.8 L2065.6,231.8 L2074.0,230.0 L2081.6,228.5 L2088.7,227.2 L2095.2,226.1 L2100.8,225.3 L2105.5,224.6 L2109.0,224.0" stroke="#e8741e"/>
</g>
<path d="M302,74.9 H316 M302,117.6 H316 M302,160.3 H316 M302,203.0 H316 M302,245.7 H316 M302,288.4 H316 M302,331.0 H316 M302,373.7 H316 M302,416.4 H316 M302,459.1 H316 M302,501.8 H316 M302,544.5 H316 M302,587.2 H316 M302,629.9 H316 M302,672.6 H316 M302,715.2 H316 M302,757.9 H316 M302,800.6 H316 M302,843.3 H316 M302,886.0 H316 M302,928.7 H316 M302,971.4 H316 M302,1014.1 H316 M302,1056.8 H316 M302,1099.5 H316 M302,1142.2 H316 M302,1184.8 H316 M302,1227.5 H316 M302,1270.2 H316 M302,1312.9 H316 M302,1355.6 H316 M302,1398.3 H316 M302,1441.0 H316" stroke="#000" stroke-width="4.5" fill="none"/>
<path d="M318.7,1440 V1458 M368.4,1440 V1453 M418.0,1440 V1453 M467.7,1440 V1453 M517.3,1440 V1453 M567.0,1440 V1458 M616.7,1440 V1453 M666.3,1440 V1453 M716.0,1440 V1453 M765.6,1440 V1453 M815.3,1440 V1458 M865.0,1440 V1453 M914.6,1440 V1453 M964.3,1440 V1453 M1013.9,1440 V1453 M1063.6,1440 V1458 M1113.3,1440 V1453 M1162.9,1440 V1453 M1212.6,1440 V1453 M1262.2,1440 V1453 M1311.9,1440 V1458 M1361.6,1440 V1453 M1411.2,1440 V1453 M1460.9,1440 V1453 M1510.5,1440 V1453 M1560.2,1440 V1458 M1609.9,1440 V1453 M1659.5,1440 V1453 M1709.2,1440 V1453 M1758.8,1440 V1453 M1808.5,1440 V1458 M1858.2,1440 V1453 M1907.8,1440 V1453 M1957.5,1440 V1453 M2007.1,1440 V1453 M2056.8,1440 V1458 M2106.5,1440 V1453 M2156.1,1440 V1453" stroke="#000" stroke-width="6" fill="none"/>
<rect x="320" y="56.4" width="1836" height="1384.7" fill="none" stroke="#000" stroke-width="11.2" stroke-linejoin="round"/>
<rect x="670" y="86.6" width="1032.8" height="277.4" fill="none" stroke="#000" stroke-width="5.8" stroke-linejoin="round"/>
<line x1="701" y1="133.0" x2="842" y2="133.0" stroke="#000000" stroke-width="7.8" stroke-linecap="round"/>
<text transform="translate(856,151.5) scale(1.25,1)" font-family="'Liberation Serif', serif" font-weight="bold" font-size="52" fill="#000">1.0M HCl</text>
<line x1="1216" y1="133.0" x2="1356" y2="133.0" stroke="#d0101c" stroke-width="7.8" stroke-linecap="round"/>
<text transform="translate(1372,151.5) scale(1.25,1)" font-family="'Liberation Serif', serif" font-weight="bold" font-size="52" fill="#000">0.000001M</text>
<line x1="701" y1="225.8" x2="842" y2="225.8" stroke="#2e9632" stroke-width="7.8" stroke-linecap="round"/>
<text transform="translate(856,244.3) scale(1.25,1)" font-family="'Liberation Serif', serif" font-weight="bold" font-size="52" fill="#000">0.000005M</text>
<line x1="1216" y1="225.8" x2="1356" y2="225.8" stroke="#0fa850" stroke-width="7.8" stroke-linecap="round"/>
<text transform="translate(1372,244.3) scale(1.25,1)" font-family="'Liberation Serif', serif" font-weight="bold" font-size="52" fill="#000">0.00001M</text>
<line x1="701" y1="318.6" x2="842" y2="318.6" stroke="#1010e0" stroke-width="7.8" stroke-linecap="round"/>
<text transform="translate(856,337.1) scale(1.25,1)" font-family="'Liberation Serif', serif" font-weight="bold" font-size="52" fill="#000">0.00005M</text>
<line x1="1216" y1="318.6" x2="1356" y2="318.6" stroke="#e8741e" stroke-width="7.8" stroke-linecap="round"/>
<text transform="translate(1372,337.1) scale(1.25,1)" font-family="'Liberation Serif', serif" font-weight="bold" font-size="52" fill="#000">0.0001M</text>
<text transform="translate(258.5,180.3) scale(1.25,1)" font-family="'Liberation Serif', serif" font-weight="bold" font-size="60" text-anchor="end" fill="#000">2</text>
<text transform="translate(258.5,393.8) scale(1.25,1)" font-family="'Liberation Serif', serif" font-weight="bold" font-size="60" text-anchor="end" fill="#000">1</text>
<text transform="translate(258.5,607.2) scale(1.25,1)" font-family="'Liberation Serif', serif" font-weight="bold" font-size="60" text-anchor="end" fill="#000">0</text>
<text transform="translate(258.5,820.7) scale(1.25,1)" font-family="'Liberation Serif', serif" font-weight="bold" font-size="60" text-anchor="end" fill="#000"><tspan fill="#4a4a4a">-</tspan>1</text>
<text transform="translate(258.5,1034.1) scale(1.25,1)" font-family="'Liberation Serif', serif" font-weight="bold" font-size="60" text-anchor="end" fill="#000"><tspan fill="#4a4a4a">-</tspan>2</text>
<text transform="translate(258.5,1247.5) scale(1.25,1)" font-family="'Liberation Serif', serif" font-weight="bold" font-size="60" text-anchor="end" fill="#000"><tspan fill="#4a4a4a">-</tspan>3</text>
<text transform="translate(258.5,1461.0) scale(1.25,1)" font-family="'Liberation Serif', serif" font-weight="bold" font-size="60" text-anchor="end" fill="#000"><tspan fill="#4a4a4a">-</tspan>4</text>
<text transform="translate(318.7,1529) scale(1.25,1)" font-family="'Liberation Serif', serif" font-weight="bold" font-size="60" text-anchor="middle" fill="#000"><tspan fill="#4a4a4a">-</tspan>920</text>
<text transform="translate(567.0,1529) scale(1.25,1)" font-family="'Liberation Serif', serif" font-weight="bold" font-size="60" text-anchor="middle" fill="#000"><tspan fill="#4a4a4a">-</tspan>820</text>
<text transform="translate(815.3,1529) scale(1.25,1)" font-family="'Liberation Serif', serif" font-weight="bold" font-size="60" text-anchor="middle" fill="#000"><tspan fill="#4a4a4a">-</tspan>720</text>
<text transform="translate(1063.6,1529) scale(1.25,1)" font-family="'Liberation Serif', serif" font-weight="bold" font-size="60" text-anchor="middle" fill="#000"><tspan fill="#4a4a4a">-</tspan>620</text>
<text transform="translate(1311.9,1529) scale(1.25,1)" font-family="'Liberation Serif', serif" font-weight="bold" font-size="60" text-anchor="middle" fill="#000"><tspan fill="#4a4a4a">-</tspan>520</text>
<text transform="translate(1560.2,1529) scale(1.25,1)" font-family="'Liberation Serif', serif" font-weight="bold" font-size="60" text-anchor="middle" fill="#000"><tspan fill="#4a4a4a">-</tspan>420</text>
<text transform="translate(1808.5,1529) scale(1.25,1)" font-family="'Liberation Serif', serif" font-weight="bold" font-size="60" text-anchor="middle" fill="#000"><tspan fill="#4a4a4a">-</tspan>320</text>
<text transform="translate(2056.8,1529) scale(1.25,1)" font-family="'Liberation Serif', serif" font-weight="bold" font-size="60" text-anchor="middle" fill="#000"><tspan fill="#4a4a4a">-</tspan>220</text>
<text transform="translate(1229,1657) scale(1.22,1)" font-family="'Liberation Serif', serif" font-weight="bold" font-size="71" text-anchor="middle" fill="#000">E vs. SCE/mV</text>
<text transform="translate(121,969.5) rotate(-90) scale(1,1.22)" font-family="'Liberation Serif', serif" font-weight="bold" font-size="70" fill="#000">log (i/mA cm<tspan dy="-22.5" font-size="47.5">-2</tspan><tspan dy="22.5">)</tspan></text>
</svg>
</body></html>
